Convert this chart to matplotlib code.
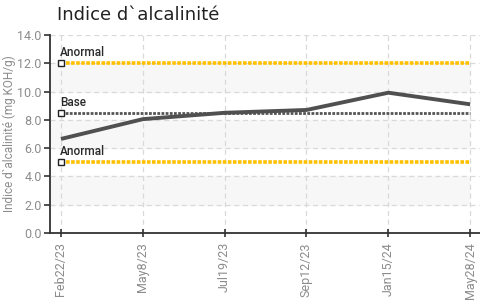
import matplotlib.pyplot as plt

dates = ["Feb22/23", "May8/23", "Jul19/23", "Sep12/23", "Jan15/24", "May28/24"]
values = [6.65, 8.05, 8.5, 8.7, 9.92, 9.1]
upper_limit = 12.0
lower_limit = 5.0
base_value = 8.5
y_ticks = [0, 2, 4, 6, 8, 10, 12, 14]

fig = plt.figure(figsize=(4.8, 3.0), dpi=100)
ax = fig.add_axes([50 / 480, 67 / 300, 430 / 480, 198 / 300])

x = list(range(len(dates)))
ax.set_xlim(-0.134, len(dates) - 1 + 0.12)
ax.set_ylim(0, 14)

# alternating bands
for lo in [2, 6, 10]:
    ax.axhspan(lo, lo + 2, xmin=0, xmax=0.975, color="#f7f7f7", zorder=0)

ax.set_yticks(y_ticks)
ax.set_yticklabels([f"{v:.1f}" for v in y_ticks])
ax.set_xticks(x)
ax.set_xticklabels(dates, rotation=90)
ax.grid(True, color="#d9d9d9", linestyle=(0, (4, 3)), linewidth=0.9, zorder=1)

n = len(dates)
ax.plot(x, [upper_limit] * n, color="#ffc000", lw=2.6, ls=(0, (1, 0.4)), zorder=2)
ax.plot(x, [lower_limit] * n, color="#ffc000", lw=2.6, ls=(0, (1, 0.4)), zorder=2)
ax.plot(x, [base_value] * n, color="#555555", lw=2.0, ls=(0, (1, 0.5)), zorder=2)
ax.plot(x, values, color="#505050", lw=2.8, zorder=3, solid_capstyle="butt")

for yv, lab in [(upper_limit, "Anormal"), (base_value, "Base"), (lower_limit, "Anormal")]:
    ax.plot([0], [yv], marker="s", ms=4, mfc="white", mec="#222222", mew=1.0, zorder=4)
    ax.text(-0.01, yv + 0.3, lab, fontsize=8.5, color="#2a2a2a", family="Roboto",
            fontweight="medium", ha="left", va="bottom", zorder=5)

for s in ["top", "right"]:
    ax.spines[s].set_visible(False)
for s in ["left", "bottom"]:
    ax.spines[s].set_color("#333333")
    ax.spines[s].set_linewidth(1.3)

ax.tick_params(axis="both", colors="#333333", labelcolor="#8c8c8c", width=1.2)
ax.tick_params(axis="y", length=4, pad=2)
ax.tick_params(axis="x", direction="inout", length=6)
for lab in ax.get_xticklabels() + ax.get_yticklabels():
    lab.set_family("Roboto")
    lab.set_fontsize(9)

ax.set_ylabel("Indice d`alcalinité (mg KOH/g)", fontsize=8.5, color="#8c8c8c",
              family="Roboto", labelpad=1)

fig.text(57 / 480, 1 - 15 / 300, "Indice d`alcalinité", fontsize=13, color="#222222",
         ha="left", va="center")

fig.savefig("out.png", dpi=100)
